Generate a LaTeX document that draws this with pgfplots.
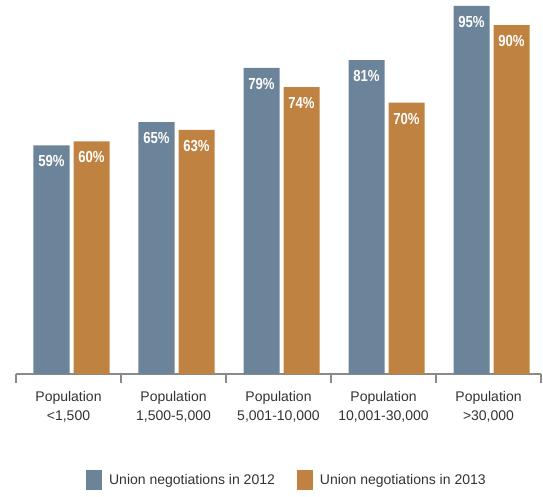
\documentclass[border=0pt]{standalone}
\usepackage{pgfplots}
\pgfplotsset{compat=1.18}
\usepackage{fontspec}
\setmainfont{Liberation Sans}
\newfontfamily\condbold[FakeStretch=0.82]{Liberation Sans}
\definecolor{cblue}{HTML}{6C8499}
\definecolor{corange}{HTML}{C08241}
\definecolor{axgrey}{HTML}{8A8A8A}
\definecolor{txt}{HTML}{333333}
\begin{document}
\begin{tikzpicture}[x=1pt,y=1pt]
\useasboundingbox (0,0) rectangle (543,496);
\begin{axis}[
  at={(16pt,122pt)}, anchor=south west,
  scale only axis, width=525pt, height=374pt,
  xmin=-0.5, xmax=4.5, ymin=0, ymax=96.5,
  /pgf/number format/assume math mode=true,
  axis x line=bottom, axis y line=none,
  axis line style={axgrey, line width=1.5pt, -},
  tick align=outside,
  xtick={0,...,4}, major tick length=0pt,
  xticklabels={{Population\\<1,500},{Population\\1,500-5,000},{Population\\5,001-10,000},{Population\\10,001-30,000},{Population\\>30,000}},
  xticklabel style={align=center, font=\fontsize{14}{19}\selectfont, text=txt, yshift=-14pt},
  minor xtick={-0.5,0.5,1.5,2.5,3.5,4.5}, minor tick length=9pt,
  minor tick style={axgrey, line width=1.5pt},
  ybar, bar width=36pt,
  nodes near coords={\pgfmathprintnumber{\pgfplotspointmeta}\%},
  nodes near coords style={text=white, font=\condbold\bfseries\fontsize{16}{16}\selectfont, anchor=center, yshift=-16pt},
  clip=false,
  legend style={at={(axis description cs:0.516,-0.283)}, anchor=center, draw=none, fill=none,
    legend columns=2, font=\fontsize{14}{14}\selectfont, text=txt,
    /tikz/every even column/.append style={column sep=20pt},
    /tikz/every odd column/.append style={column sep=5pt}},
  legend image code/.code={\fill[#1] (0pt,-10pt) rectangle (16pt,10pt);},
]
\addplot[fill=cblue, draw=none, bar shift=-17pt] coordinates {(0,59) (1,65) (2,79) (3,81) (4,95)};
\addlegendentry{Union negotiations in 2012}
\addplot[fill=corange, draw=none, bar shift=23pt] coordinates {(0,60) (1,63) (2,74) (3,70) (4,90)};
\addlegendentry{Union negotiations in 2013}
\end{axis}
\end{tikzpicture}
\end{document}
